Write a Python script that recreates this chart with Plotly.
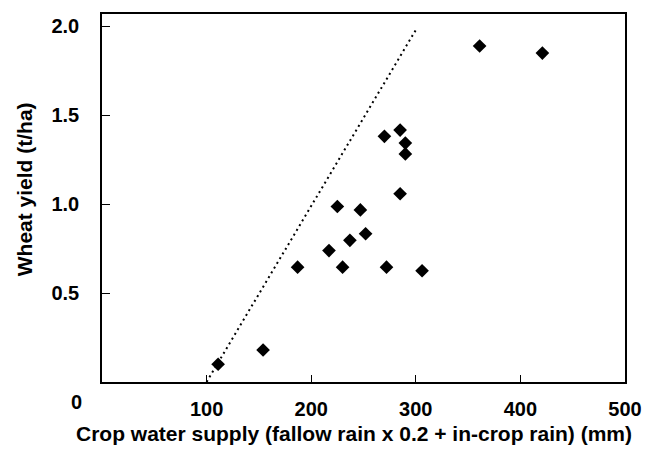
import plotly.graph_objects as go

# Data
water_supply = [111, 154, 187, 217, 225, 230, 237, 247, 252, 270, 272, 285, 285, 290, 290, 306, 361, 421]
wheat_yield = [0.10, 0.18, 0.646, 0.739, 0.987, 0.646, 0.797, 0.968, 0.834, 1.382, 0.646, 1.417, 1.059, 1.344, 1.283, 0.626, 1.89, 1.85]

limit_x = [100, 300]
limit_y = [0.0, 1.98]

x_ticks = [100, 200, 300, 400, 500]
y_ticks = [0.5, 1.0, 1.5, 2.0]
y_tick_labels = ["0.5", "1.0", "1.5", "2.0"]

FONT = "Liberation Sans, Arial, sans-serif"

fig = go.Figure()
fig.add_trace(go.Scatter(
    x=limit_x, y=limit_y, mode="lines",
    line=dict(color="black", width=2, dash="2px,3.5px"),
    showlegend=False, hoverinfo="skip",
))
fig.add_trace(go.Scatter(
    x=water_supply, y=wheat_yield, mode="markers",
    marker=dict(symbol="diamond", size=10.5, color="black", line=dict(width=0)),
    showlegend=False,
))

fig.update_layout(
    width=654, height=450,
    margin=dict(l=102, r=29, t=12, b=68),
    paper_bgcolor="white", plot_bgcolor="white",
    font=dict(family=FONT, color="black"),
    xaxis=dict(
        range=[0, 500], tickvals=x_ticks, ticktext=[str(v) for v in x_ticks],
        showgrid=False, zeroline=False,
        showline=True, linecolor="black", linewidth=1.5, mirror=True,
        ticks="inside", ticklen=7, tickwidth=1.2, tickcolor="black",
        tickfont=dict(family=FONT, size=20, weight="bold", color="black"),
        ticklabelstandoff=8,
    ),
    yaxis=dict(
        range=[0, 2.07], tickvals=y_ticks, ticktext=y_tick_labels,
        showgrid=False, zeroline=False,
        showline=True, linecolor="black", linewidth=1.5, mirror=True,
        ticks="inside", ticklen=8, tickwidth=1.2, tickcolor="black",
        tickfont=dict(family=FONT, size=20, weight="bold", color="black"),
        ticklabelstandoff=17,
    ),
    annotations=[
        dict(text="0", xref="paper", yref="paper", x=-0.048, y=-0.054,
             showarrow=False, xanchor="center", yanchor="middle",
             font=dict(family=FONT, size=20, weight="bold", color="black")),
        dict(text="Crop water supply (fallow rain x 0.2 + in-crop rain) (mm)",
             xref="paper", yref="paper", x=0.482, y=-0.14,
             showarrow=False, xanchor="center", yanchor="middle",
             font=dict(family=FONT, size=21, weight="bold", color="black")),
        dict(text="Wheat yield (t/ha)", xref="paper", yref="paper",
             x=-0.149, y=0.524, textangle=-90,
             showarrow=False, xanchor="center", yanchor="middle",
             font=dict(family=FONT, size=21, weight="bold", color="black")),
    ],
)

fig.write_html(
    "out.html",
    config={"displayModeBar": False},
    post_script="document.body.style.margin='0';document.body.style.overflow='hidden';",
)
